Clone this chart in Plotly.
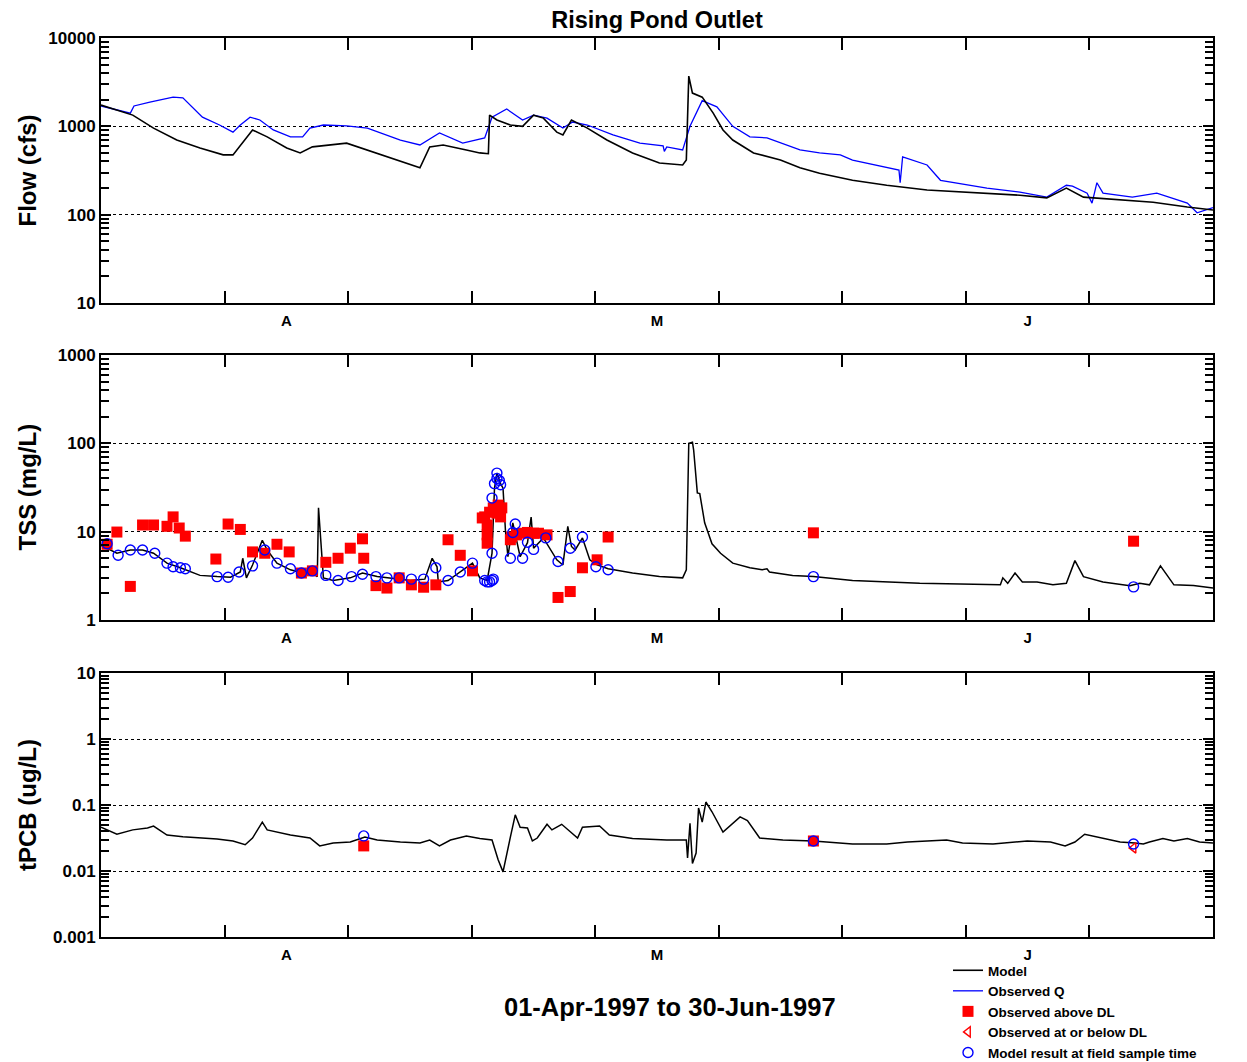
import plotly.graph_objects as go

FONT = "Liberation Sans"

# ---------------- data (day 0 = 01-Apr-1997 00:00, day 91 = 01-Jul-1997) ----------------
flow_model_day = [0, 2.6, 4.3, 6.2, 8.1, 10.0, 10.8, 12.4, 13.6, 15.2, 16.3, 17.3, 20.1, 21.8, 24.5, 26.1,
                  26.9, 28.0, 29.9, 31.0, 31.7, 31.8, 32.4, 33.5, 34.5, 35.4, 36.2, 37.3, 37.8, 38.5, 39.8,
                  41.4, 43.5, 45.7, 47.6, 47.9, 48.1, 48.4, 49.2, 50.1, 50.9, 51.7, 53.4, 55.6, 57.2, 58.8,
                  61.5, 64.3, 67.6, 72.5, 75.2, 77.4, 79.0, 80.4, 83.4, 86.1, 88.9, 91.0]
flow_model_cfs = [1740, 1340, 955, 700, 570, 475, 475, 910, 760, 570, 500, 585, 645, 540, 400, 340,
                  585, 615, 540, 500, 490, 1340, 1180, 1035, 1000, 1340, 1240, 860, 800, 1180, 955,
                  700, 500, 385, 365, 415, 3700, 2380, 2140, 1410, 910, 700, 500, 415, 340, 295,
                  245, 215, 190, 175, 166, 155, 200, 158, 147, 138, 122, 113]

flow_obs_day = [0, 2.4, 2.7, 4.0, 5.9, 6.7, 8.3, 9.7, 10.8, 11.4, 12.2, 13.0, 14.1, 15.5, 16.5, 17.1, 18.2,
                20.1, 21.8, 24.5, 26.1, 27.7, 29.6, 31.4, 32.0, 33.2, 34.5, 35.4, 36.5, 37.8, 38.6, 39.8,
                41.9, 44.1, 46.0, 46.1, 46.3, 47.6, 48.2, 49.2, 50.4, 51.7, 53.1, 54.5, 57.2, 58.8, 60.5,
                61.5, 65.3, 65.4, 65.6, 67.6, 68.7, 72.5, 75.2, 77.4, 79.0, 79.5, 80.7, 81.1, 81.5, 82.0,
                84.4, 86.4, 88.9, 89.7, 91.0]
flow_obs_cfs = [1700, 1410, 1700, 1885, 2140, 2100, 1270, 1035, 860, 1035, 1270, 1180, 910, 760, 760, 955, 1035,
                1010, 955, 700, 615, 840, 645, 740, 1270, 1570, 1180, 1340, 1240, 955, 1120, 1035,
                800, 645, 600, 520, 585, 540, 1000, 1950, 1660, 1000, 760, 740, 540, 500, 475,
                415, 320, 230, 450, 365, 245, 200, 180, 158, 215, 210, 175, 135, 230, 175,
                158, 175, 135, 105, 120]

tss_model_day = [0, 1.3, 2.4, 3.4, 4.3, 5.4, 6.5, 8.1, 9.5, 10.6, 11.4, 11.6, 11.9, 12.4, 13.2, 13.6, 14.4,
                 15.5, 16.5, 17.3, 17.7, 17.8, 18.2, 19.0, 20.4, 21.4, 22.6, 23.4, 24.5, 25.3, 26.5, 27.1,
                 27.5, 27.6, 28.4, 29.4, 30.4, 31.0, 31.6, 32.0, 32.2, 32.4, 32.7, 32.9, 33.1, 33.3, 33.7,
                 34.3, 34.9, 35.2, 35.4, 36.2, 37.3, 37.8, 38.2, 38.5, 38.8, 39.4, 40.0, 40.6, 41.5, 43.5,
                 45.7, 47.6, 47.9, 48.1, 48.4, 48.5, 48.8, 49.0, 49.4, 50.0, 50.7, 51.7, 53.1, 54.1, 54.5,
                 54.7, 56.6, 58.3, 61.5, 67.0, 72.5, 73.6, 73.8, 74.2, 74.8, 75.4, 76.6, 77.9, 79.0, 79.7,
                 80.4, 82.0, 84.2, 85.0, 85.8, 86.7, 87.8, 89.4, 91.0]
tss_model = [7.0, 5.7, 6.2, 6.2, 5.7, 4.4, 3.9, 3.2, 3.1, 3.05, 3.5, 5.0, 3.0, 4.2, 8.0, 6.2, 4.4,
             3.7, 3.4, 3.4, 3.1, 18.6, 3.0, 2.8, 3.0, 3.4, 3.1, 3.0, 2.9, 2.8, 2.9, 5.0,
             4.0, 2.7, 2.8, 3.5, 4.4, 3.0, 2.8, 5.7, 31, 46, 35, 31, 10.2, 5.2, 12.6,
             5.2, 7.5, 14.6, 6.5, 8.5, 4.8, 4.2, 11.5, 6.8, 6.2, 8.5, 4.8, 4.2, 3.8, 3.4,
             3.1, 3.0, 3.7, 100, 103, 84, 27.5, 27, 12.6, 7.3, 5.7, 4.4, 3.9, 3.7, 3.8,
             3.5, 3.2, 3.1, 2.8, 2.6, 2.5, 2.5, 3.0, 2.6, 3.4, 2.7, 2.7, 2.5, 2.6, 4.7,
             3.1, 2.7, 2.45, 2.6, 2.5, 4.1, 2.5, 2.45, 2.3]

tss_obs_day = [0.5, 1.3, 2.4, 3.4, 4.3, 5.4, 5.9, 6.4, 6.9, 9.4, 10.4, 11.4, 12.4, 13.4, 14.4, 15.4, 16.4,
               17.3, 18.4, 19.4, 20.4, 21.4, 21.5, 22.5, 23.4, 24.4, 25.4, 26.4, 27.4, 28.4, 29.4, 30.4,
               31.2, 31.4, 31.6, 31.6, 31.6, 31.8, 32.1, 32.4, 32.5, 32.7, 32.8,
               33.5, 33.6, 34.0, 34.5, 34.9, 35.4, 35.8, 36.5, 37.4, 38.4, 39.4, 40.6, 41.5, 58.3, 84.5]
tss_obs = [7.2, 9.9, 2.4, 11.9, 11.9, 11.5, 14.7, 11.0, 8.9, 4.9, 12.2, 10.6, 5.9, 5.7, 7.2, 5.9, 3.4,
           3.6, 4.5, 5.0, 6.5, 8.3, 5.0, 2.45, 2.3, 3.0, 2.5, 2.35, 2.5, 8.1, 5.4, 3.6,
           14.3, 14.7, 11.9, 9.2, 7.4, 16.6, 18.6, 16.2, 20, 14.7, 18.6,
           8.1, 8.7, 9.2, 9.6, 9.8, 9.6, 9.6, 9.2, 1.8, 2.1, 3.9, 4.8, 8.7, 9.7, 7.8]

tss_samp_day = [0.5, 1.4, 2.4, 3.4, 4.4, 5.4, 5.9, 6.5, 6.9, 9.5, 10.4, 11.3, 12.4, 13.4, 14.4, 15.5, 16.4,
                17.3, 18.4, 19.4, 20.5, 21.4, 22.5, 23.4, 24.4, 25.4, 26.4, 27.4, 28.4, 29.4, 30.4,
                31.4, 31.6, 31.8, 32.0, 32.1, 32.0, 32.0, 32.2, 32.4, 32.4, 32.6, 32.7,
                33.5, 33.7, 33.9, 34.5, 34.9, 35.4, 36.4, 37.4, 38.4, 39.4, 40.5, 41.5, 58.3, 84.5]
tss_samp = [7.3, 5.4, 6.2, 6.2, 5.7, 4.4, 4.0, 3.9, 3.8, 3.1, 3.05, 3.5, 4.1, 6.2, 4.4, 3.8, 3.4,
            3.6, 3.2, 2.8, 3.1, 3.3, 3.1, 3.0, 3.0, 2.9, 2.9, 3.9, 2.8, 3.5, 4.4,
            2.8, 2.7, 2.7, 2.8, 2.9, 5.7, 24, 35, 46, 40, 38, 34,
            5.0, 9.8, 12.2, 5.0, 7.6, 6.3, 8.5, 4.6, 6.5, 8.7, 4.0, 3.7, 3.1, 2.37]

pcb_model_day = [0, 1.3, 2.6, 3.8, 4.3, 5.4, 6.7, 9.5, 10.8, 11.8, 12.4, 13.2, 13.6, 15.5, 17.1, 17.9, 19.0,
                 20.4, 21.6, 22.6, 24.5, 26.1, 26.9, 27.7, 28.6, 29.9, 31.0, 32.0, 32.5, 32.9, 33.5, 33.9,
                 34.3, 34.9, 35.3, 35.7, 36.5, 36.9, 37.7, 38.2, 39.0, 39.4, 40.8, 41.6, 43.5, 46.3, 47.9,
                 48.0, 48.2, 48.4, 48.7, 48.9, 49.2, 49.5, 50.0, 50.9, 52.3, 52.9, 53.9, 55.8, 58.3, 61.5,
                 64.3, 66.0, 69.2, 70.5, 73.0, 75.8, 77.7, 78.9, 79.7, 80.5, 82.0, 83.4, 84.6, 85.3, 85.8,
                 86.9, 87.8, 88.9, 89.9, 91.0]
pcb_model = [0.046, 0.036, 0.042, 0.045, 0.048, 0.035, 0.033, 0.0306, 0.0285, 0.025, 0.0316, 0.055, 0.042,
             0.035, 0.0316, 0.024, 0.0266, 0.0275, 0.0327, 0.0295, 0.0275, 0.0265, 0.0295, 0.024, 0.0295,
             0.034, 0.031, 0.0295, 0.0148, 0.0097, 0.0327, 0.071, 0.046, 0.045, 0.0285, 0.0316, 0.051,
             0.042, 0.051, 0.042, 0.0316, 0.046, 0.048, 0.035, 0.031, 0.0295, 0.0295, 0.0158, 0.053,
             0.013, 0.0187, 0.09, 0.055, 0.111, 0.079, 0.039, 0.066, 0.058, 0.0316, 0.0295, 0.0285,
             0.0257, 0.0257, 0.0275, 0.0295, 0.0266, 0.0257, 0.0285, 0.0275, 0.024, 0.0275, 0.036,
             0.0316, 0.0275, 0.0266, 0.0257, 0.0275, 0.031, 0.0285, 0.031, 0.0275, 0.0265]

pcb_obs_day = [21.5, 58.3]
pcb_obs = [0.024, 0.0285]
pcb_dl_day = [84.5]
pcb_dl = [0.0224]
pcb_samp_day = [21.5, 58.3, 84.5]
pcb_samp = [0.034, 0.0285, 0.0257]

month_labels = ["A", "M", "J"]
x_end = 91
n_div = 9
title_text = "Rising Pond Outlet"
date_text = "01-Apr-1997 to 30-Jun-1997"
y_titles = ["Flow (cfs)", "TSS (mg/L)", "tPCB (ug/L)"]
flow_ticks = [10, 100, 1000, 10000]
tss_ticks = [1, 10, 100, 1000]
pcb_ticks = [0.001, 0.01, 0.1, 1, 10]

# ---------------- figure ----------------
BLACK, BLUE, RED = "#000000", "#0000ff", "#ff0000"
fig = go.Figure()


def line(x, y, color, name, ax, show, rank, width=1.4):
    fig.add_trace(go.Scatter(x=x, y=y, mode="lines", line=dict(color=color, width=width), name=name,
                             xaxis=ax[0], yaxis=ax[1], showlegend=show, legendrank=rank))


def pts(x, y, symbol, color, name, ax, show, rank, size=11, open_=False):
    if open_:
        m = dict(symbol=symbol, size=size, color=color, line=dict(color=color, width=1.4))
    else:
        m = dict(symbol=symbol, size=size, color=color, line=dict(width=0))
    fig.add_trace(go.Scatter(x=x, y=y, mode="markers", marker=m, name=name,
                             xaxis=ax[0], yaxis=ax[1], showlegend=show, legendrank=rank))


A1, A2, A3 = ("x", "y"), ("x2", "y2"), ("x3", "y3")
line(flow_obs_day, flow_obs_cfs, BLUE, "Observed Q", A1, True, 2, 1.3)
line(flow_model_day, flow_model_cfs, BLACK, "Model", A1, True, 1, 1.6)

line(tss_model_day, tss_model, BLACK, "Model", A2, False, 1, 1.5)
pts(tss_obs_day, tss_obs, "square", RED, "Observed above DL", A2, True, 3, 11)
pts(tss_samp_day, tss_samp, "circle-open", BLUE, "Model result at field sample time", A2, True, 5, 10, True)

line(pcb_model_day, pcb_model, BLACK, "Model", A3, False, 1, 1.5)
pts(pcb_obs_day, pcb_obs, "square", RED, "Observed above DL", A3, False, 3, 11)
pts(pcb_dl_day, pcb_dl, "triangle-left-open", RED, "Observed at or below DL", A3, True, 4, 9, True)
pts(pcb_samp_day, pcb_samp, "circle-open", BLUE, "Model result", A3, False, 5, 10, True)

div_pos = [x_end * k / n_div for k in range(1, n_div)]
label_pos = [x_end * (3 * i + 1.5) / n_div for i in range(len(month_labels))]

H, W = 1062, 1247
mt, mb, ml, mr = 38, 125, 101, 34
ph = H - mt - mb
pw = W - ml - mr


def dom(top_px, bot_px):
    return [(H - mb - bot_px) / ph, (H - mb - top_px) / ph]


doms = [dom(38, 303), dom(355, 620), dom(673, 937)]


def xax(anchor):
    return dict(range=[0, x_end], anchor=anchor, domain=[0, 1], showline=True, mirror="ticks",
                linecolor="black", linewidth=2, tickvals=label_pos, ticktext=month_labels, ticks="",
                showgrid=False, zeroline=False, ticklabelstandoff=3,
                tickfont=dict(size=15, family=FONT, weight="bold", color="black"),
                minor=dict(tickvals=div_pos, ticks="inside", ticklen=12, tickwidth=2,
                           tickcolor="black", showgrid=False))


def minors(lo, hi):
    return [k * 10 ** n for n in range(lo, hi) for k in range(2, 10)]


def fmt(v):
    return ("%g" % v) if v >= 1 else ("%.3f" % v).rstrip("0")


def yax(anchor, d, lo, hi, ticks):
    return dict(type="log", range=[lo, hi], domain=d, anchor=anchor, showline=True, mirror="ticks",
                linecolor="black", linewidth=2, tickvals=ticks, ticktext=[fmt(v) for v in ticks],
                ticks="inside", ticklen=10, tickwidth=1.5, tickcolor="black",
                showgrid=True, gridcolor="black", griddash="dot", gridwidth=1.2, zeroline=False,
                tickfont=dict(size=17, family=FONT, weight="bold", color="black"),
                minor=dict(tickvals=minors(lo, hi), ticks="inside", ticklen=8, tickwidth=1.5,
                           tickcolor="black", showgrid=False))


fig.update_layout(
    width=W, height=H, margin=dict(l=ml, r=mr, t=mt, b=mb, autoexpand=False),
    paper_bgcolor="white", plot_bgcolor="white",
    font=dict(family=FONT, color="black"),
    title=dict(text=title_text, x=(657 - ml) / pw, xref="paper", xanchor="center",
               y=1 - 20 / H, yanchor="middle",
               font=dict(size=23.5, family=FONT, weight="bold", color="black")),
    xaxis=xax("y"), xaxis2=xax("y2"), xaxis3=xax("y3"),
    yaxis=yax("x", doms[0], 1, 4, flow_ticks),
    yaxis2=yax("x2", doms[1], 0, 3, tss_ticks),
    yaxis3=yax("x3", doms[2], -3, 1, pcb_ticks),
    legend=dict(x=(948 - ml) / pw, y=(H - mb - 955) / ph, xanchor="left", yanchor="top",
                bgcolor="rgba(0,0,0,0)", tracegroupgap=0, itemwidth=30,
                font=dict(size=13.5, family=FONT, weight="bold", color="black")),
    showlegend=True,
)

annots = [dict(text=date_text, xref="paper", yref="paper", x=(670 - ml) / pw,
               y=(H - mb - 1007) / ph, xanchor="center", yanchor="middle", showarrow=False,
               font=dict(size=25.5, family=FONT, weight="bold", color="black"))]
for t, d in zip(y_titles, doms):
    annots.append(dict(text=t, xref="paper", yref="paper", x=(27 - ml) / pw,
                       y=(d[0] + d[1]) / 2, xanchor="center", yanchor="middle", textangle=-90,
                       showarrow=False, font=dict(size=24, family=FONT, weight="bold", color="black")))
fig.update_layout(annotations=annots)

fig.write_html("out.html")
